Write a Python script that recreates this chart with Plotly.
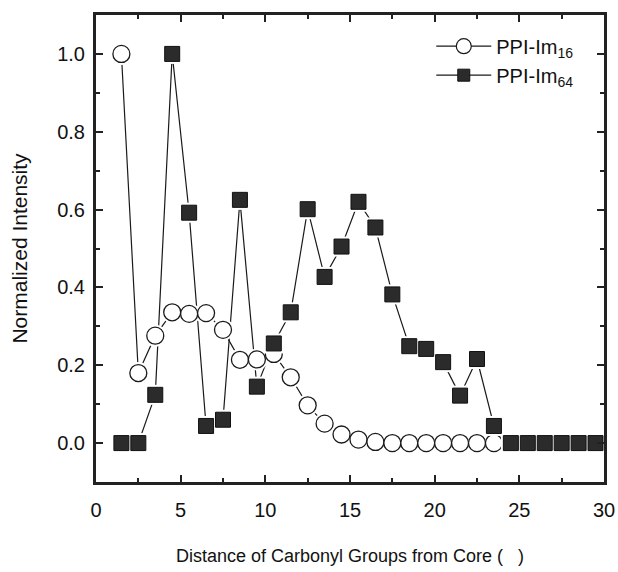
import plotly.graph_objects as go

# Distance bins (Å) and normalized intensities for the two dendrimers
distance = [1.5, 2.5, 3.5, 4.5, 5.5, 6.5, 7.5, 8.5, 9.5, 10.5, 11.5, 12.5, 13.5, 14.5, 15.5,
            16.5, 17.5, 18.5, 19.5, 20.5, 21.5, 22.5, 23.5, 24.5, 25.5, 26.5, 27.5, 28.5, 29.5]
im16 = [1.0, 0.18, 0.276, 0.336, 0.332, 0.334, 0.291, 0.214, 0.215, 0.229, 0.169, 0.097, 0.05,
        0.022, 0.009, 0.003, 0.0, 0.0, 0.0, 0.0, 0.0, 0.0, 0.0, 0.0, 0.0, 0.0, 0.0, 0.0, 0.0]
im64 = [0.0, 0.0, 0.124, 1.0, 0.592, 0.044, 0.06, 0.625, 0.145, 0.256, 0.336, 0.601, 0.427,
        0.505, 0.62, 0.554, 0.382, 0.249, 0.242, 0.208, 0.122, 0.216, 0.044, 0.0, 0.0, 0.0,
        0.0, 0.0, 0.0]

x_ticks = [0, 5, 10, 15, 20, 25, 30]
y_ticks = [0.0, 0.2, 0.4, 0.6, 0.8, 1.0]

font_family = "Liberation Sans, Arial, sans-serif"
ink = "#1a1a1a"

fig = go.Figure()

# Connecting lines, broken around each symbol by a white halo
for ys in (im16, im64):
    fig.add_trace(go.Scatter(x=distance, y=ys, mode="lines",
                             line=dict(color=ink, width=1.2),
                             showlegend=False, hoverinfo="skip"))
fig.add_trace(go.Scatter(x=distance, y=im16, mode="markers",
                         marker=dict(symbol="circle", size=22, color="white",
                                     line=dict(width=0)),
                         showlegend=False, hoverinfo="skip"))
fig.add_trace(go.Scatter(x=distance, y=im16, mode="markers", name="PPI-Im<sub>16</sub>",
                         marker=dict(symbol="circle", size=17, color="white",
                                     line=dict(color=ink, width=1.3)),
                         showlegend=False))
fig.add_trace(go.Scatter(x=distance, y=im64, mode="markers",
                         marker=dict(symbol="square", size=20, color="white",
                                     line=dict(width=0)),
                         showlegend=False, hoverinfo="skip"))
fig.add_trace(go.Scatter(x=distance, y=im64, mode="markers", name="PPI-Im<sub>64</sub>",
                         marker=dict(symbol="square", size=15, color="#2b2b2b",
                                     line=dict(color="#111111", width=1)),
                         showlegend=False))

# Legend entries
fig.add_trace(go.Scatter(x=[None], y=[None], mode="lines+markers",
                         name="PPI-Im<sub>16</sub>",
                         line=dict(color=ink, width=1.2),
                         marker=dict(symbol="circle", size=15, color="white",
                                     line=dict(color=ink, width=1.2))))
fig.add_trace(go.Scatter(x=[None], y=[None], mode="lines+markers",
                         name="PPI-Im<sub>64</sub>",
                         line=dict(color=ink, width=1.2),
                         marker=dict(symbol="square", size=12, color="#2b2b2b",
                                     line=dict(color="#111111", width=1))))

axis_common = dict(
    showline=True, linecolor="#222222", linewidth=3, mirror="allticks",
    ticks="inside", ticklen=7, tickwidth=2, tickcolor="#222222",
    showgrid=False, zeroline=False, automargin=False,
    tickfont=dict(family=font_family, size=20, color="#111111"),
)
minor_ticks = dict(ticks="inside", ticklen=4, tickwidth=2, tickcolor="#222222")

fig.update_layout(
    width=618, height=572,
    margin=dict(l=96, r=14, t=15, b=90),
    paper_bgcolor="white", plot_bgcolor="white",
    font=dict(family=font_family, color="#111111"),
    xaxis=dict(axis_common, range=[0, 30], tickvals=x_ticks,
               ticktext=[str(v) for v in x_ticks], ticklabelstandoff=8,
               minor=dict(minor_ticks, dtick=2.5),
               title=dict(text="Distance of Carbonyl Groups from Core (   )",
                          font=dict(family=font_family, size=18), standoff=30)),
    yaxis=dict(axis_common, range=[-0.1, 1.1], tickvals=y_ticks,
               ticktext=[f"{v:.1f}" for v in y_ticks], ticklabelstandoff=4,
               minor=dict(minor_ticks, dtick=0.1),
               title=dict(text="Normalized Intensity",
                          font=dict(family=font_family, size=21), standoff=24)),
    legend=dict(x=0.66, y=0.975, xanchor="left", yanchor="top",
                bgcolor="rgba(0,0,0,0)", borderwidth=0,
                font=dict(family=font_family, size=20, color="#111111"),
                itemwidth=55, tracegroupgap=0),
)

fig.write_html("out.html")
